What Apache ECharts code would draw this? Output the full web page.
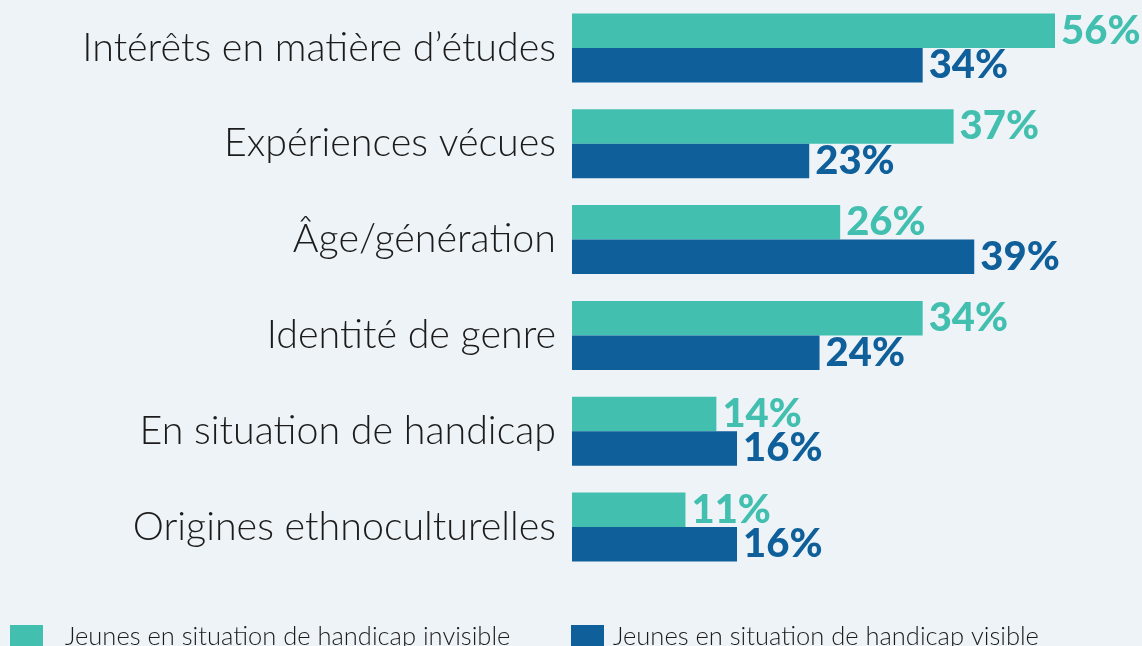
<!DOCTYPE html>
<html>
<head>
<meta charset="utf-8">
<script src="https://cdn.jsdelivr.net/npm/echarts@6/dist/echarts.min.js"></script>
<style>
html,body{margin:0;padding:0;background:#EEF3F7;}
#chart{width:1142px;height:646px;}
</style>
</head>
<body>
<div id="chart"></div>
<script>
var categories = ['Intérêts en matière d’études', 'Expériences vécues', 'Âge/génération', 'Identité de genre', 'En situation de handicap', 'Origines ethnoculturelles'];
var seriesNames = ['Jeunes en situation de handicap invisible', 'Jeunes en situation de handicap visible'];
var invisibleValues = [56, 37, 26, 34, 14, 11];
var visibleValues = [34, 23, 39, 24, 16, 16];

var TEAL = '#43BFB0';
var BLUE = '#0F5F9B';
var FONT = 'Lato, "Noto Sans", sans-serif';

var chart = echarts.init(document.getElementById('chart'));
function valLabel(color) {
  return {
    show: true,
    position: 'right',
    distance: 6,
    formatter: '{c}%',
    color: color,
    fontFamily: FONT,
    fontWeight: 900,
    fontSize: 40
  };
}
chart.setOption({
  backgroundColor: '#EEF3F7',
  animation: false,
  grid: { left: 572, top: 0, width: 483, height: 575, containLabel: false },
  xAxis: { type: 'value', min: 0, max: 46.83, show: false },
  yAxis: {
    type: 'category',
    data: categories,
    inverse: true,
    axisLine: { show: false },
    axisTick: { show: false },
    splitLine: { show: false },
    axisLabel: { margin: 16, fontSize: 39.4, fontWeight: 300, color: '#1b1b1b', fontFamily: FONT }
  },
  legend: [
    {
      data: [seriesNames[0]], left: 10, top: 624, padding: 0, itemWidth: 33, itemHeight: 24,
      icon: 'rect',
      textStyle: { fontSize: 25.5, fontWeight: 300, color: '#1b1b1b', fontFamily: FONT, padding: [0, 0, 0, 17] }
    },
    {
      data: [seriesNames[1]], left: 571, top: 624, padding: 0, itemWidth: 33, itemHeight: 24,
      icon: 'rect',
      textStyle: { fontSize: 25.5, fontWeight: 300, color: '#1b1b1b', fontFamily: FONT, padding: [0, 0, 0, 4] }
    }
  ],
  series: [
    {
      name: seriesNames[0], type: 'bar', data: invisibleValues, clip: true,
      barWidth: 34.5, barGap: '0%', itemStyle: { color: TEAL },
      label: valLabel(TEAL)
    },
    {
      name: seriesNames[1], type: 'bar', data: visibleValues, clip: true,
      barWidth: 34.5, barGap: '0%', itemStyle: { color: BLUE },
      label: valLabel(BLUE)
    }
  ]
});
</script>
</body>
</html>
